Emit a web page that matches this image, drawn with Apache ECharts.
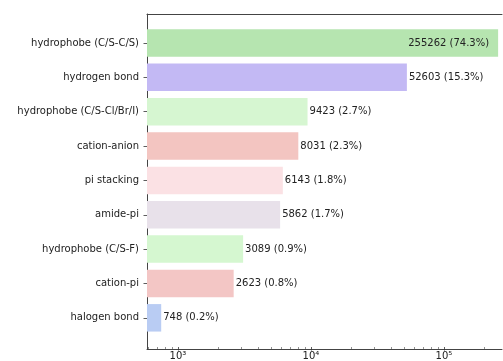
<!DOCTYPE html>
<html>
<head>
<meta charset="utf-8">
<script src="https://cdn.jsdelivr.net/npm/echarts@6/dist/echarts.min.js"></script>
<style>
  html, body { margin: 0; padding: 0; background: #fff; }
  #chart { width: 503px; height: 361px; }
</style>
</head>
<body>
<div id="chart"></div>
<script>
// Interaction types, top to bottom
const categories = [
  'hydrophobe (C/S-C/S)',
  'hydrogen bond',
  'hydrophobe (C/S-Cl/Br/I)',
  'cation-anion',
  'pi stacking',
  'amide-pi',
  'hydrophobe (C/S-F)',
  'cation-pi',
  'halogen bond'
];
// Number of occurrences per interaction type
const counts = [255262, 52603, 9423, 8031, 6143, 5862, 3089, 2623, 748];
// Log-axis tick values and their labels
const majorTicks = [1000, 10000, 100000];
const majorTickLabels = ['10³', '10⁴', '10⁵'];
const minorTicks = [600, 700, 800, 900, 2000, 3000, 4000, 5000, 6000, 7000, 8000, 9000,
  20000, 30000, 40000, 50000, 60000, 70000, 80000, 90000, 200000];

// Bar fill colours, one per interaction type
const barColors = ['#b6e5b0', '#c3b9f4', '#d6f6d1', '#f3c5c1', '#fbe1e4',
  '#e8e1ea', '#d5f7d0', '#f3c6c5', '#b9ccf3'];

const total = counts.reduce((a, b) => a + b, 0);
const FONT = 'DejaVu Sans';
const X_MIN = 585, X_MAX = 273000;
const SPINE = { show: true, onZero: false, lineStyle: { color: '#444', width: 1 } };
const frameAxis = (extra) => Object.assign({
  gridIndex: 1, type: 'value', min: 0, max: 1,
  axisLine: SPINE, axisTick: { show: false }, axisLabel: { show: false },
  splitLine: { show: false }
}, extra);

const chart = echarts.init(document.getElementById('chart'), null, { renderer: 'canvas' });

const barData = counts.map((v, i) => ({
  value: v,
  itemStyle: { color: barColors[i] },
  label: i === 0
    ? { position: 'insideRight', distance: 9 }
    : { position: 'right', distance: 2 }
}));

chart.setOption({
  animation: false,
  backgroundColor: '#fff',
  grid: [
    { left: 147, right: 1, top: 25.8, height: 311.4, containLabel: false },
    // axes frame (top, bottom and left spines)
    { left: 147, right: 1, top: 14, bottom: 12 }
  ],
  xAxis: [
    {
      gridIndex: 0, type: 'log', logBase: 10, min: X_MIN, max: X_MAX,
      position: 'bottom', offset: 12,
      axisLine: { show: false },
      splitLine: { show: false },
      axisTick: { show: true, customValues: majorTicks, length: 3.5,
        lineStyle: { color: '#333', width: 0.8 } },
      axisLabel: {
        customValues: majorTicks, margin: 4,
        fontFamily: FONT, fontSize: 10, color: '#222',
        formatter: v => majorTickLabels[majorTicks.indexOf(v)]
      }
    },
    {
      gridIndex: 0, type: 'log', logBase: 10, min: X_MIN, max: X_MAX,
      position: 'bottom', offset: 12,
      axisLine: { show: false },
      splitLine: { show: false },
      axisTick: { show: true, customValues: minorTicks, length: 2,
        lineStyle: { color: '#444', width: 0.6 } },
      axisLabel: { show: false }
    },
    frameAxis({ position: 'top' }),
    frameAxis({ position: 'bottom' })
  ],
  yAxis: [
    {
      gridIndex: 0, type: 'category', data: categories, inverse: true,
      axisLine: { show: false },
      axisTick: { show: true, alignWithLabel: true, length: 3.5,
        lineStyle: { color: '#333', width: 0.8 } },
      axisLabel: { margin: 8, fontFamily: FONT, fontSize: 10, color: '#222' },
      splitLine: { show: false }
    },
    frameAxis({ position: 'left' })
  ],
  series: [
    {
      type: 'bar',
      xAxisIndex: 0, yAxisIndex: 0,
      data: barData,
      barCategoryGap: '20%',
      label: {
        show: true,
        fontFamily: FONT, fontSize: 10, color: '#222',
        formatter: p => counts[p.dataIndex] + ' (' +
          (counts[p.dataIndex] / total * 100).toFixed(1) + '%)'
      }
    }
  ]
});
</script>
</body>
</html>
